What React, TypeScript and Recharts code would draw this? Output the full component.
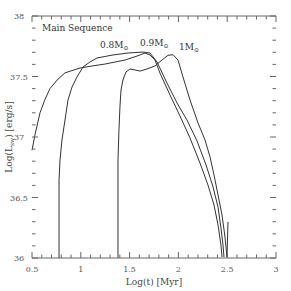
import React from "react";
import {
  LineChart,
  Line,
  XAxis,
  YAxis,
  ReferenceDot,
} from "recharts";

// tracks: log(t) [Myr] vs log(L_sw) [erg/s]
const track08 = [
  { t: 0.5, l: 36.89 }, { t: 0.531, l: 37.02 }, { t: 0.582, l: 37.2 }, { t: 0.633, l: 37.31 },
  { t: 0.684, l: 37.4 }, { t: 0.756, l: 37.47 }, { t: 0.838, l: 37.53 }, { t: 0.992, l: 37.57 },
  { t: 1.115, l: 37.587 }, { t: 1.248, l: 37.603 }, { t: 1.453, l: 37.636 }, { t: 1.576, l: 37.669 },
  { t: 1.658, l: 37.694 }, { t: 1.709, l: 37.678 }, { t: 1.76, l: 37.636 }, { t: 1.811, l: 37.529 },
  { t: 1.914, l: 37.347 }, { t: 2.016, l: 37.174 }, { t: 2.119, l: 36.992 }, { t: 2.221, l: 36.785 },
  { t: 2.303, l: 36.603 }, { t: 2.365, l: 36.438 }, { t: 2.406, l: 36.273 }, { t: 2.436, l: 36.107 },
  { t: 2.447, l: 36.008 },
];

const track09 = [
  { t: 0.777, l: 36.0 }, { t: 0.777, l: 36.645 }, { t: 0.787, l: 36.81 }, { t: 0.807, l: 36.975 },
  { t: 0.838, l: 37.14 }, { t: 0.869, l: 37.306 }, { t: 0.91, l: 37.413 }, { t: 0.961, l: 37.496 },
  { t: 1.023, l: 37.579 }, { t: 1.094, l: 37.62 }, { t: 1.166, l: 37.653 }, { t: 1.33, l: 37.678 },
  { t: 1.484, l: 37.694 }, { t: 1.637, l: 37.702 }, { t: 1.709, l: 37.694 }, { t: 1.781, l: 37.62 },
  { t: 1.883, l: 37.446 }, { t: 1.986, l: 37.281 }, { t: 2.088, l: 37.14 }, { t: 2.191, l: 36.967 },
  { t: 2.283, l: 36.769 }, { t: 2.355, l: 36.587 }, { t: 2.406, l: 36.421 }, { t: 2.436, l: 36.248 },
  { t: 2.457, l: 36.107 }, { t: 2.467, l: 36.008 },
];

const track10 = [
  { t: 1.381, l: 36.0 }, { t: 1.381, l: 36.81 }, { t: 1.391, l: 37.058 }, { t: 1.402, l: 37.264 },
  { t: 1.412, l: 37.388 }, { t: 1.432, l: 37.471 }, { t: 1.463, l: 37.537 }, { t: 1.504, l: 37.562 },
  { t: 1.555, l: 37.554 }, { t: 1.607, l: 37.545 }, { t: 1.678, l: 37.562 }, { t: 1.76, l: 37.587 },
  { t: 1.832, l: 37.636 }, { t: 1.893, l: 37.675 }, { t: 1.945, l: 37.68 }, { t: 1.996, l: 37.636 },
  { t: 2.047, l: 37.496 }, { t: 2.119, l: 37.306 }, { t: 2.201, l: 37.116 }, { t: 2.273, l: 36.975 },
  { t: 2.324, l: 36.835 }, { t: 2.365, l: 36.686 }, { t: 2.406, l: 36.521 }, { t: 2.447, l: 36.355 },
  { t: 2.477, l: 36.174 }, { t: 2.498, l: 36.008 }, { t: 2.508, l: 36.298 },
];

const xMajorTicks = [0.5, 1, 1.5, 2, 2.5, 3];
const xAllTicks = [
  0.5, 0.6, 0.7, 0.8, 0.9, 1, 1.1, 1.2, 1.3, 1.4, 1.5, 1.6, 1.7, 1.8, 1.9, 2,
  2.1, 2.2, 2.3, 2.4, 2.5, 2.6, 2.7, 2.8, 2.9, 3,
];
const yMajorTicks = [36, 36.5, 37, 37.5, 38];
const yAllTicks = [
  36, 36.1, 36.2, 36.3, 36.4, 36.5, 36.6, 36.7, 36.8, 36.9, 37,
  37.1, 37.2, 37.3, 37.4, 37.5, 37.6, 37.7, 37.8, 37.9, 38,
];

const massLabels = [
  { t: 1.197, l: 37.736, text: "0.8" },
  { t: 1.607, l: 37.75, text: "0.9" },
  { t: 2.006, l: 37.72, text: "1" },
];

const FONT = "'DejaVu Serif', serif";
const INK = "#333";
const AXIS = "#666";
const MAJOR = 6;
const MINOR = 3.5;

const isMajor = (v: number, majors: number[]) => majors.some((m) => Math.abs(m - v) < 1e-6);

const BottomTick = (props: any) => {
  const { x, y, payload } = props;
  const major = isMajor(payload.value, xMajorTicks);
  return (
    <g>
      <line x1={x} x2={x} y1={y} y2={y - (major ? MAJOR : MINOR)} stroke={AXIS} />
      {major && (
        <text x={x} y={y + 14} textAnchor="middle" fontSize={8} fontFamily={FONT} fill="#555">
          {payload.value}
        </text>
      )}
    </g>
  );
};

const TopTick = (props: any) => {
  const { x, y, payload } = props;
  const major = isMajor(payload.value, xMajorTicks);
  return <line x1={x} x2={x} y1={y} y2={y + (major ? MAJOR : MINOR)} stroke={AXIS} />;
};

const LeftTick = (props: any) => {
  const { x, y, payload } = props;
  const major = isMajor(payload.value, yMajorTicks);
  return (
    <g>
      <line x1={x} x2={x + (major ? MAJOR : MINOR)} y1={y} y2={y} stroke={AXIS} />
      {major && (
        <text x={x - 13} y={y + 3} textAnchor="middle" fontSize={8} fontFamily={FONT} fill="#555">
          {payload.value}
        </text>
      )}
    </g>
  );
};

const RightTick = (props: any) => {
  const { x, y, payload } = props;
  const major = isMajor(payload.value, yMajorTicks);
  return <line x1={x} x2={x - (major ? MAJOR : MINOR)} y1={y} y2={y} stroke={AXIS} />;
};

const YLabel = (props: any) => {
  const vb = props.viewBox || { x: 0, y: 16, width: 32, height: 242 };
  const cx = 9;
  const cy = vb.y + vb.height / 2;
  return (
    <text
      x={cx}
      y={cy}
      transform={`rotate(-90, ${cx}, ${cy})`}
      textAnchor="middle"
      dominantBaseline="central"
      fontSize={9}
      fontFamily={FONT}
      fill="#444"
    >
      Log(L
      <tspan fontSize={6} dy={2}>sw</tspan>
      <tspan dy={-2}>)  [erg/s]</tspan>
    </text>
  );
};

const massShape = (text: string) => (p: any) => (
  <text x={p.cx} y={p.cy} fontSize={9} fontFamily={FONT} fill="#333">
    {text}M
    <tspan fontSize={6} dy={2}>⊙</tspan>
  </text>
);

const mainSeqShape = (p: any) => (
  <text x={p.cx} y={p.cy} fontSize={9} fontFamily={FONT} fill="#333">
    Main Sequence
  </text>
);

export default function App() {
  return (
    <div style={{ position: "fixed", left: 0, top: 0, width: 291, height: 291, background: "#fff" }}>
      <LineChart width={291} height={291} margin={{ top: 0, right: 0, bottom: 0, left: 0 }}>
        <XAxis
          xAxisId="bottom"
          dataKey="t"
          type="number"
          orientation="bottom"
          domain={[0.5, 3]}
          ticks={xAllTicks}
          interval={0}
          height={33}
          tickLine={false}
          tickSize={0}
          tickMargin={0}
          tick={<BottomTick />}
          axisLine={{ stroke: AXIS }}
          label={{
            value: "Log(t) [Myr]",
            position: "insideBottom",
            offset: 6,
            fontSize: 9,
            fontFamily: FONT,
            fill: "#444",
          }}
        />
        <XAxis
          xAxisId="top"
          dataKey="t"
          type="number"
          orientation="top"
          domain={[0.5, 3]}
          ticks={xAllTicks}
          interval={0}
          height={16}
          tickLine={false}
          tickSize={0}
          tickMargin={0}
          tick={<TopTick />}
          axisLine={{ stroke: AXIS }}
        />
        <YAxis
          yAxisId="left"
          type="number"
          domain={[36, 38]}
          ticks={yAllTicks}
          interval={0}
          width={32}
          tickLine={false}
          tickSize={0}
          tickMargin={0}
          tick={<LeftTick />}
          axisLine={false}
          label={<YLabel />}
        />
        <YAxis
          yAxisId="right"
          orientation="right"
          type="number"
          domain={[36, 38]}
          ticks={yAllTicks}
          interval={0}
          width={15}
          tickLine={false}
          tickSize={0}
          tickMargin={0}
          tick={<RightTick />}
          axisLine={false}
        />
        <Line data={track08} dataKey="l" xAxisId="bottom" yAxisId="left" type="linear" stroke={INK} strokeWidth={1} dot={false} isAnimationActive={false} />
        <Line data={track09} dataKey="l" xAxisId="bottom" yAxisId="left" type="linear" stroke={INK} strokeWidth={1} dot={false} isAnimationActive={false} />
        <Line data={track10} dataKey="l" xAxisId="bottom" yAxisId="left" type="linear" stroke={INK} strokeWidth={1} dot={false} isAnimationActive={false} />
        <Line data={track10} dataKey="l" xAxisId="top" yAxisId="right" stroke="none" dot={false} isAnimationActive={false} legendType="none" />
        <ReferenceDot x={0.602} y={37.876} r={0} xAxisId="bottom" yAxisId="left" shape={mainSeqShape} />
        {massLabels.map((m) => (
          <ReferenceDot
            key={m.text}
            x={m.t}
            y={m.l}
            r={0}
            xAxisId="bottom"
            yAxisId="left"
            shape={massShape(m.text)}
          />
        ))}
      </LineChart>
    </div>
  );
}
